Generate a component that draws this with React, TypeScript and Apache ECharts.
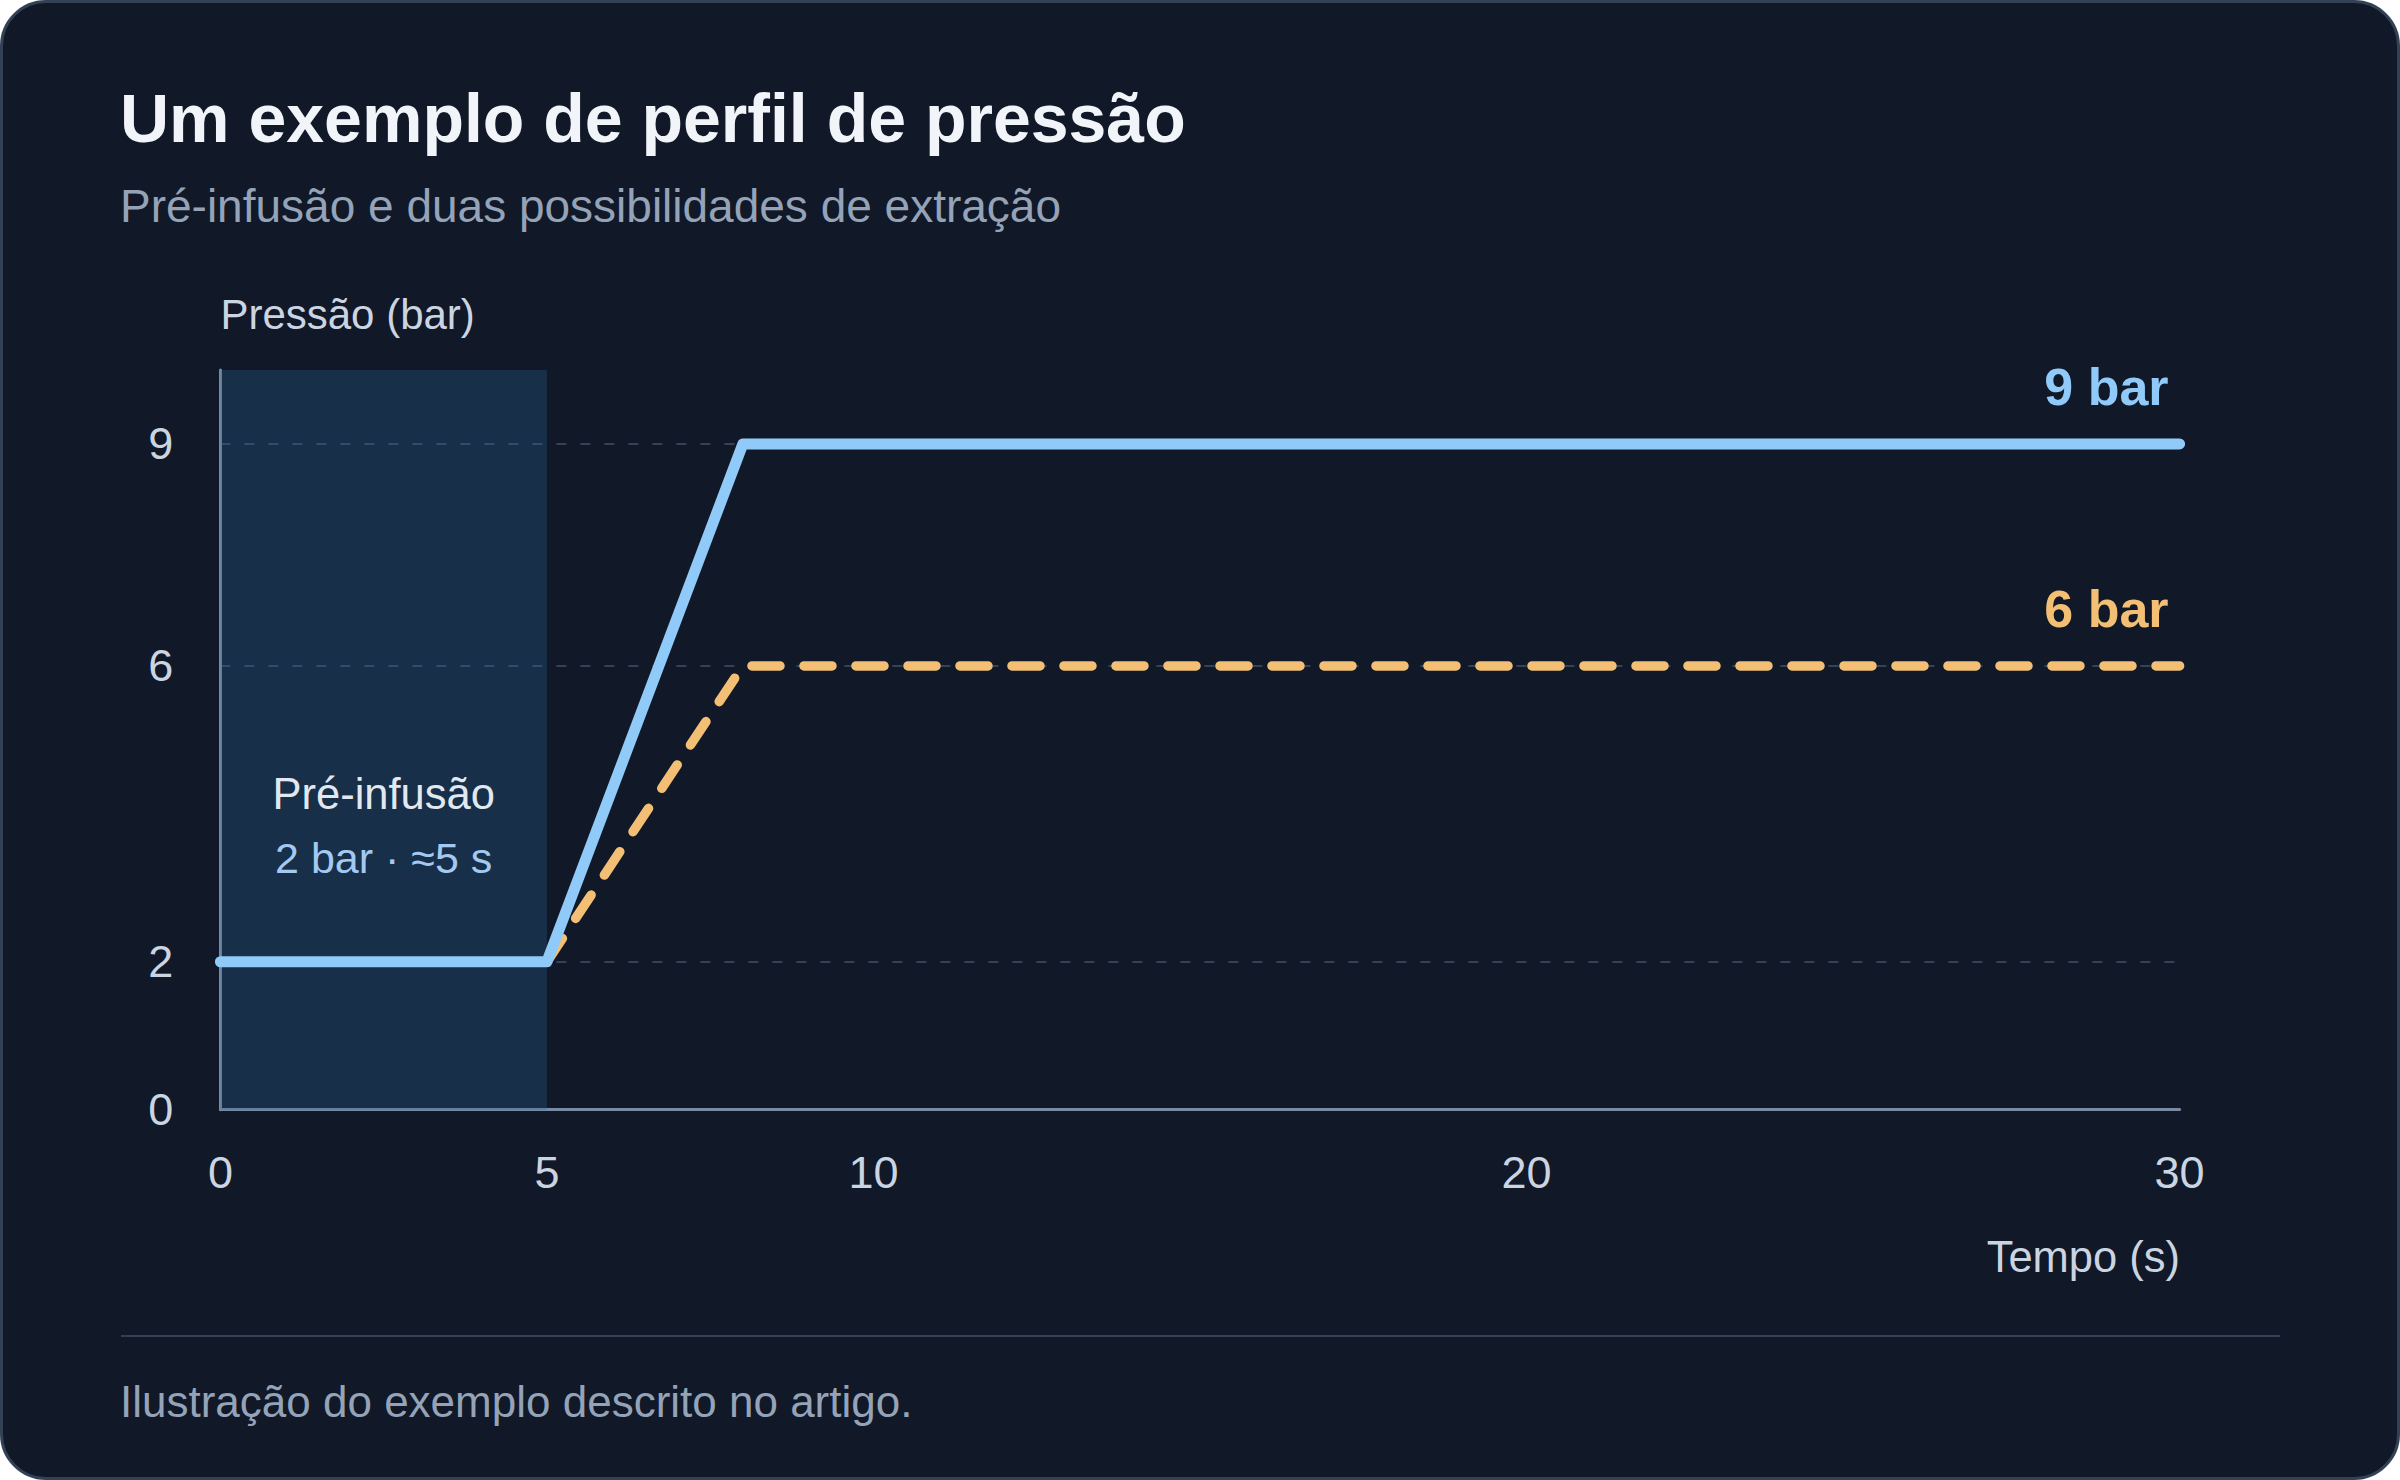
import { useEffect, useRef } from 'react';
import * as echarts from 'echarts';

// profile values
const TIME_9 = [0, 5, 8, 30];
const PRESSURE_9 = [2, 2, 9, 9];
const TIME_6 = [5, 8, 30];
const PRESSURE_6 = [2, 6, 6];
const PRE_INFUSION = [0, 5];
const Y_TICKS = [0, 2, 6, 9];
const X_TICKS = [0, 5, 10, 20, 30];

const FONT = "'Liberation Sans', Arial, Helvetica, sans-serif";
const BLUE = '#90caf9';
const ORANGE = '#f2bf75';
const GRID_LINE = '#364356';
const AXIS_LINE = '#7a8aa2';
const TICK_TEXT = '#cbd5e1';

export default function App() {
  const chartRef = useRef<HTMLDivElement>(null);

  useEffect(() => {
    if (!chartRef.current) return;
    const chart = echarts.init(chartRef.current, null, { renderer: 'svg' });

    // one colour per integer tick 0..10, only 2/6/9 visible
    const splitColors = Array.from({ length: 11 }, (_, i) =>
      i !== 0 && Y_TICKS.includes(i) ? GRID_LINE : 'rgba(0,0,0,0)'
    );

    const option = {
      animation: false,
      backgroundColor: 'transparent',
      textStyle: { fontFamily: FONT },
      grid: {
        left: 220.4,
        right: 220.4,
        top: 370,
        bottom: 370.3,
        outerBoundsMode: 'none',
      },
      xAxis: {
        type: 'value',
        min: 0,
        max: 30,
        interval: 5,
        axisLine: { show: true, lineStyle: { color: AXIS_LINE, width: 3 } },
        axisTick: { show: false },
        splitLine: { show: false },
        axisLabel: {
          color: TICK_TEXT,
          fontSize: 45,
          margin: 40,
          formatter: (v: number) => (X_TICKS.includes(v) ? String(v) : ''),
        },
      },
      yAxis: {
        type: 'value',
        min: 0,
        max: 10,
        interval: 1,
        name: 'Pressão (bar)',
        nameLocation: 'end',
        nameGap: 56,
        nameTextStyle: {
          color: TICK_TEXT,
          fontSize: 42,
          align: 'left',
          verticalAlign: 'middle',
        },
        axisLine: { show: true, lineStyle: { color: AXIS_LINE, width: 3 } },
        axisTick: { show: false },
        splitLine: {
          show: true,
          lineStyle: { color: splitColors, width: 2, type: [10, 14] },
        },
        axisLabel: {
          color: TICK_TEXT,
          fontSize: 45,
          margin: 47,
          formatter: (v: number) => (Y_TICKS.includes(v) ? String(v) : ''),
        },
      },
      series: [
        {
          name: '6 bar',
          type: 'line',
          data: TIME_6.map((t, i) => [t, PRESSURE_6[i]]),
          showSymbol: false,
          symbol: 'none',
          lineStyle: {
            color: ORANGE,
            width: 9.5,
            type: [28, 24],
            cap: 'round',
            join: 'round',
          },
          markArea: {
            silent: true,
            itemStyle: { color: 'rgba(40,104,152,0.3)' },
            label: {
              show: true,
              position: 'inside',
              offset: [0, 86],
              formatter: '{a|Pré-infusão}\n{b|2 bar · ≈5 s}',
              rich: {
                a: { color: '#e2e8f0', fontSize: 43.5, lineHeight: 64, fontFamily: FONT },
                b: { color: '#a3c9f1', fontSize: 43, lineHeight: 64, fontFamily: FONT },
              },
            },
            data: [[{ xAxis: PRE_INFUSION[0] }, { xAxis: PRE_INFUSION[1] }]],
          },
        },
        {
          name: '9 bar',
          type: 'line',
          data: TIME_9.map((t, i) => [t, PRESSURE_9[i]]),
          showSymbol: false,
          symbol: 'none',
          lineStyle: { color: BLUE, width: 11, cap: 'round', join: 'round' },
        },
      ],
      graphic: [
        {
          id: 'title',
          type: 'text',
          x: 120,
          y: 118,
          style: {
            text: 'Um exemplo de perfil de pressão',
            fill: '#f1f5f9',
            fontSize: 68,
            fontWeight: 'bold',
            fontFamily: FONT,
            align: 'left',
            verticalAlign: 'middle',
          },
        },
        {
          id: 'subtitle',
          type: 'text',
          x: 120,
          y: 206,
          style: {
            text: 'Pré-infusão e duas possibilidades de extração',
            fill: '#94a3b8',
            fontSize: 46,
            fontFamily: FONT,
            align: 'left',
            verticalAlign: 'middle',
          },
        },
        {
          id: 'xname',
          type: 'text',
          x: 2180,
          y: 1257,
          style: {
            text: 'Tempo (s)',
            fill: TICK_TEXT,
            fontSize: 43.5,
            fontFamily: FONT,
            align: 'right',
            verticalAlign: 'middle',
          },
        },
        {
          id: 'divider',
          type: 'line',
          shape: { x1: 121, y1: 1336, x2: 2280, y2: 1336 },
          style: { stroke: '#334155', lineWidth: 2 },
        },
        {
          id: 'footer',
          type: 'text',
          x: 120,
          y: 1401,
          style: {
            text: 'Ilustração do exemplo descrito no artigo.',
            fill: '#94a3b8',
            fontSize: 44,
            fontFamily: FONT,
            align: 'left',
            verticalAlign: 'middle',
          },
        },
      ],
    };

    chart.setOption(option);

    // end labels placed from the data through the grid's scales
    const end9 = chart.convertToPixel({ gridIndex: 0 }, [
      TIME_9[TIME_9.length - 1],
      PRESSURE_9[PRESSURE_9.length - 1],
    ]) as number[];
    const end6 = chart.convertToPixel({ gridIndex: 0 }, [
      TIME_6[TIME_6.length - 1],
      PRESSURE_6[PRESSURE_6.length - 1],
    ]) as number[];

    chart.setOption({
      graphic: [
        {
          id: 'label9',
          type: 'text',
          x: end9[0] - 11,
          y: end9[1] - 57,
          style: {
            text: '9 bar',
            fill: BLUE,
            fontSize: 52,
            fontWeight: 'bold',
            fontFamily: FONT,
            align: 'right',
            verticalAlign: 'middle',
          },
        },
        {
          id: 'label6',
          type: 'text',
          x: end6[0] - 11,
          y: end6[1] - 57,
          style: {
            text: '6 bar',
            fill: ORANGE,
            fontSize: 52,
            fontWeight: 'bold',
            fontFamily: FONT,
            align: 'right',
            verticalAlign: 'middle',
          },
        },
      ],
    });

    return () => {
      chart.dispose();
    };
  }, []);

  return (
    <div
      style={{
        position: 'fixed',
        left: 0,
        top: 0,
        width: 2400,
        height: 1480,
        boxSizing: 'border-box',
        border: '3px solid #334155',
        borderRadius: 46,
        background: '#111827',
        overflow: 'hidden',
      }}
    >
      <div
        ref={chartRef}
        style={{ position: 'absolute', left: -3, top: -3, width: 2400, height: 1480 }}
      />
    </div>
  );
}
